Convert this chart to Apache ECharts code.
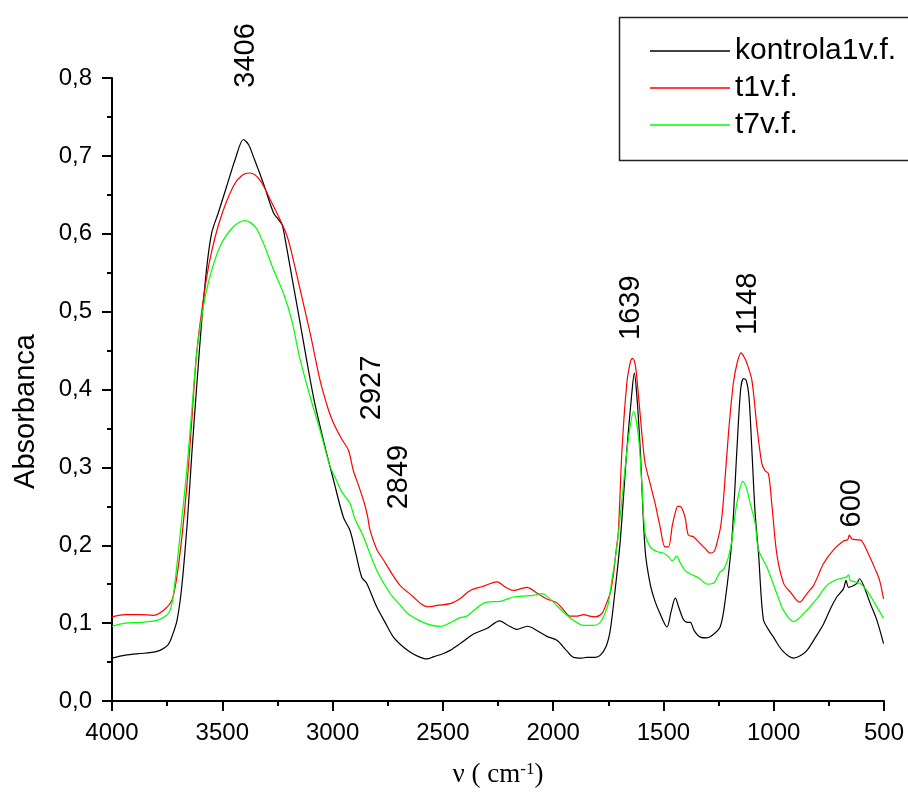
<!DOCTYPE html>
<html><head><meta charset="utf-8">
<script src="https://cdn.jsdelivr.net/npm/echarts@6/dist/echarts.min.js"></script>
<style>html,body{margin:0;padding:0;background:#fff}#c{width:908px;height:801px}</style>
</head><body><div id="c"></div>
<script>
// ---------------- data ----------------
const seriesNames = ['kontrola1v.f.', 't1v.f.', 't7v.f.'];

const kWn  = [4000,3940,3873,3828,3782,3746,3728,3705,3684,3658,3638,3616,3593,3570,3548,3518,3480,3442,3404,3380,3359,3314,3268,3245,3228,3210,3193,3150,3087,3034,2996,2951,2921,2895,2868,2845,2800,2760,2724,2690,2649,2610,2573,2540,2497,2467,2420,2361,2301,2243,2210,2165,2116,2070,2028,1983,1940,1908,1870,1847,1810,1787,1760,1741,1720,1696,1666,1645,1632,1620,1605,1583,1560,1538,1515,1484,1465,1446,1430,1410,1390,1378,1360,1333,1303,1280,1243,1220,1190,1167,1150,1137,1125,1112,1099,1084,1069,1047,1020,1001,975,955,930,910,880,849,810,774,740,714,684,672,661,640,623,611,593,562,532,502];
const kAbs = [0.055,0.059,0.061,0.062,0.065,0.072,0.083,0.104,0.146,0.232,0.318,0.404,0.489,0.558,0.601,0.627,0.661,0.695,0.721,0.714,0.699,0.665,0.627,0.618,0.611,0.585,0.558,0.490,0.391,0.326,0.284,0.236,0.219,0.190,0.159,0.151,0.121,0.100,0.082,0.072,0.063,0.057,0.054,0.057,0.061,0.065,0.074,0.086,0.093,0.103,0.098,0.092,0.096,0.090,0.083,0.078,0.065,0.056,0.055,0.056,0.056,0.0585,0.070,0.091,0.140,0.205,0.322,0.390,0.421,0.390,0.322,0.194,0.150,0.128,0.112,0.095,0.115,0.132,0.120,0.105,0.101,0.101,0.090,0.082,0.081,0.084,0.095,0.129,0.206,0.322,0.400,0.414,0.412,0.390,0.322,0.240,0.190,0.105,0.090,0.082,0.070,0.063,0.057,0.055,0.058,0.065,0.082,0.099,0.120,0.1335,0.144,0.155,0.146,0.148,0.151,0.157,0.1485,0.125,0.1035,0.0736];

const t1Wn  = [4000,3940,3873,3813,3752,3722,3692,3661,3638,3616,3586,3556,3510,3450,3410,3374,3329,3283,3238,3210,3193,3150,3100,3057,3020,2996,2960,2928,2906,2880,2853,2840,2830,2800,2769,2730,2694,2633,2600,2566,2520,2467,2420,2376,2320,2255,2215,2180,2119,2070,2028,1983,1950,1923,1890,1862,1835,1809,1780,1764,1740,1726,1714,1704,1688,1666,1650,1641,1630,1621,1598,1583,1560,1538,1515,1493,1477,1460,1447,1435,1424,1402,1387,1364,1333,1311,1288,1270,1258,1240,1228,1205,1183,1165,1148,1135,1122,1099,1076,1054,1040,1024,1009,986,955,925,883,849,819,774,729,684,665,657,645,620,602,571,541,520,502];
const t1Abs = [0.108,0.111,0.111,0.110,0.120,0.135,0.189,0.275,0.361,0.447,0.515,0.567,0.618,0.661,0.675,0.678,0.669,0.644,0.618,0.600,0.584,0.532,0.470,0.412,0.375,0.357,0.337,0.322,0.296,0.275,0.251,0.235,0.219,0.195,0.181,0.163,0.1485,0.1335,0.125,0.121,0.123,0.125,0.132,0.142,0.147,0.153,0.146,0.142,0.146,0.138,0.131,0.126,0.116,0.109,0.109,0.111,0.109,0.108,0.112,0.121,0.140,0.164,0.194,0.219,0.322,0.408,0.435,0.440,0.435,0.4165,0.344,0.305,0.279,0.254,0.2235,0.198,0.198,0.225,0.241,0.250,0.250,0.236,0.213,0.211,0.202,0.196,0.190,0.192,0.202,0.225,0.258,0.344,0.408,0.435,0.447,0.442,0.434,0.412,0.352,0.305,0.296,0.292,0.254,0.189,0.151,0.140,0.127,0.138,0.1485,0.1765,0.194,0.2055,0.207,0.213,0.208,0.207,0.206,0.189,0.170,0.155,0.131];

const t7Wn  = [4000,3940,3873,3797,3752,3735,3722,3692,3661,3638,3616,3586,3556,3510,3450,3397,3351,3314,3268,3223,3185,3150,3102,3057,3011,2985,2958,2921,2900,2860,2800,2739,2690,2649,2573,2512,2470,2422,2392,2331,2301,2240,2180,2120,2089,2051,2030,1999,1953,1900,1862,1817,1790,1772,1750,1734,1715,1704,1681,1658,1635,1613,1598,1583,1560,1530,1500,1480,1460,1440,1425,1400,1370,1340,1300,1270,1245,1225,1205,1190,1167,1140,1125,1107,1084,1069,1031,986,955,910,865,805,759,714,672,660,654,608,578,541,502];
const t7Abs = [0.096,0.100,0.101,0.1035,0.110,0.118,0.135,0.211,0.296,0.374,0.447,0.506,0.545,0.584,0.609,0.617,0.609,0.588,0.554,0.524,0.489,0.442,0.391,0.348,0.301,0.285,0.2686,0.2536,0.235,0.211,0.168,0.138,0.122,0.110,0.099,0.0958,0.100,0.107,0.109,0.123,0.127,0.128,0.1335,0.135,0.1357,0.138,0.135,0.127,0.114,0.102,0.097,0.097,0.100,0.108,0.125,0.155,0.190,0.215,0.279,0.339,0.372,0.339,0.279,0.215,0.198,0.192,0.190,0.186,0.180,0.186,0.178,0.167,0.162,0.158,0.150,0.152,0.165,0.170,0.185,0.206,0.254,0.282,0.275,0.254,0.228,0.194,0.172,0.138,0.116,0.102,0.112,0.131,0.1485,0.156,0.159,0.162,0.155,0.151,0.142,0.125,0.106];

const xTickLabels = ['500','1000','1500','2000','2500','3000','3500','4000'];
const yTickLabels = ['0,0','0,1','0,2','0,3','0,4','0,5','0,6','0,7','0,8'];

const peakLabels = ['3406','2927','2849','1639','1148','600'];
// label centres (layout), in data units
const peakLabelX = [3392,2821,2698,1646,1115,644];
const peakLabelY = [0.829,0.402,0.2875,0.505,0.51,0.254];

// ---------------- chart ----------------
const zip = (a, b) => a.map((v, i) => [v, b[i]]);
const F = '"Liberation Sans", Arial, sans-serif';
const SERIF = '"Liberation Serif", "Times New Roman", serif';
const chart = echarts.init(document.getElementById('c'), null, {renderer: 'canvas'});

const axisBlack = {color: '#000', width: 2};
chart.setOption({
  animation: false,
  backgroundColor: '#fff',
  color: ['#000000', '#ff0000', '#00ff00'],
  grid: {left: 112, right: 24, top: 78, bottom: 100, containLabel: false},
  legend: {
    left: 619, top: 17, orient: 'vertical',
    padding: [19, 10, 21, 31],
    itemWidth: 80, itemHeight: 1.5, itemGap: 7,
    icon: 'rect',
    textStyle: {fontFamily: F, fontSize: 30, color: '#000', lineHeight: 30},
    data: seriesNames
  },
  xAxis: {
    type: 'value', inverse: true, min: 500, max: 4000, interval: 500,
    name: '{n|ν ( cm}{s|-1}{n|)}', nameLocation: 'middle', nameGap: 60,
    nameTextStyle: {rich: {
      n: {fontFamily: SERIF, fontSize: 27, color: '#000', verticalAlign: 'bottom'},
      s: {fontFamily: SERIF, fontSize: 17, color: '#000', verticalAlign: 'top'}
    }},
    axisLine: {show: true, onZero: false, lineStyle: axisBlack},
    axisTick: {show: true, length: 10, lineStyle: axisBlack},
    minorTick: {show: true, splitNumber: 2, length: 5, lineStyle: axisBlack},
    axisLabel: {fontFamily: F, fontSize: 24, color: '#000', margin: 20,
      showMinLabel: true, showMaxLabel: true,
      formatter: v => xTickLabels[Math.round(v / 500) - 1]},
    splitLine: {show: false}
  },
  yAxis: {
    type: 'value', min: 0, max: 0.8, interval: 0.1,
    name: 'Absorbanca', nameLocation: 'middle', nameGap: 72, nameRotate: 90,
    nameTextStyle: {fontFamily: F, fontSize: 29, color: '#000', padding: [0, 44, 0, 0]},
    axisLine: {show: true, lineStyle: axisBlack},
    axisTick: {show: true, length: 10, lineStyle: axisBlack},
    minorTick: {show: true, splitNumber: 2, length: 5, lineStyle: axisBlack},
    axisLabel: {fontFamily: F, fontSize: 24, color: '#000', margin: 20,
      showMinLabel: true, showMaxLabel: true,
      formatter: v => yTickLabels[Math.round(v * 10)]},
    splitLine: {show: false}
  },
  series: [
    {name: seriesNames[0], type: 'line', data: zip(kWn, kAbs)},
    {name: seriesNames[1], type: 'line', data: zip(t1Wn, t1Abs)},
    {name: seriesNames[2], type: 'line', data: zip(t7Wn, t7Abs)}
  ].map(s => Object.assign(s, {showSymbol: false, symbol: 'none', smooth: 0.3,
      lineStyle: {width: 1.2}, clip: false}))
});

const graphics = peakLabels.map((t, i) => {
  const p = chart.convertToPixel({gridIndex: 0}, [peakLabelX[i], peakLabelY[i]]);
  return {type: 'text', x: p[0], y: p[1], rotation: Math.PI / 2, z: 100,
    style: {text: t, fontFamily: F, fontSize: 29, fill: '#000', align: 'center', verticalAlign: 'middle'}};
});
// legend frame, running off the right edge as in the original
graphics.push({type: 'rect', z: 90, silent: true,
  shape: {x: 619.5, y: 17.5, width: 330, height: 143},
  style: {fill: 'none', stroke: '#222', lineWidth: 1.5}});
chart.setOption({graphic: graphics});
</script>
</body></html>
